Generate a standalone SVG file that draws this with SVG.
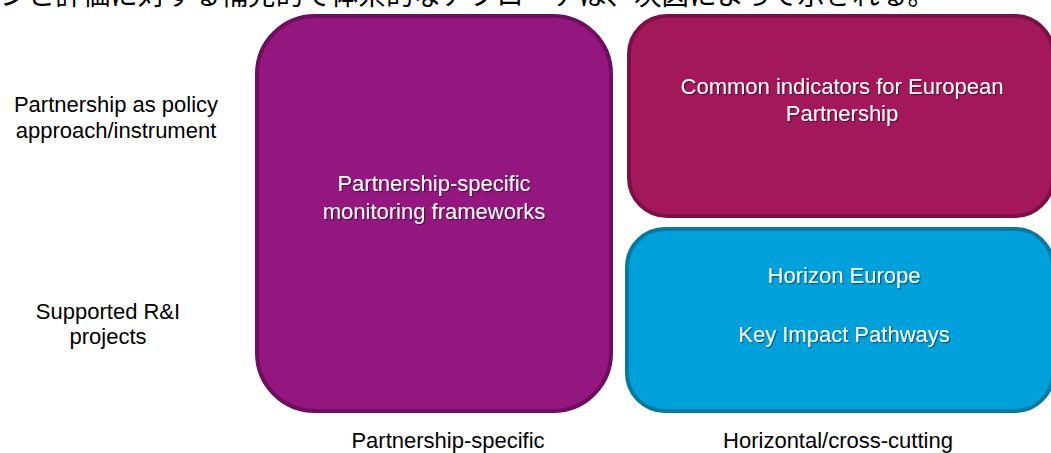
<svg xmlns="http://www.w3.org/2000/svg" width="1051" height="453" viewBox="0 0 1051 453">
  <defs>
    <filter id="txtShadow" x="-10%" y="-30%" width="120%" height="160%">
      <feDropShadow dx="1.2" dy="1.2" stdDeviation="0.7" flood-color="#000" flood-opacity="0.45"/>
    </filter>
  </defs>
  <style>
    .label { font-family: "Liberation Sans", Arial, sans-serif; font-size: 22px; fill: #000; text-anchor: middle; }
    .inner { font-family: "Liberation Sans", Arial, sans-serif; font-size: 22px; fill: #fff; text-anchor: middle; filter: url(#txtShadow); }
    .box { stroke-width: 4; }
    .jp { font-family: "Liberation Serif", "Noto Sans CJK JP", serif; font-size: 27.5px; fill: #000; }
  </style>
  <rect width="1051" height="453" fill="#fff"/>

  <!-- caption line above the chart, clipped by the top edge -->
  <text class="jp" x="0" y="5" textLength="935" lengthAdjust="spacing">ンと評価に対する補完的で体系的なアプローチは、次図によって示される。</text>

  <!-- row labels -->
  <g id="row-policy">
    <text class="label" x="116" y="112">Partnership as policy</text>
    <text class="label" x="116" y="138">approach/instrument</text>
  </g>
  <g id="row-projects">
    <text class="label" x="108" y="319">Supported R&amp;I</text>
    <text class="label" x="108" y="344">projects</text>
  </g>

  <!-- column labels -->
  <g id="col-specific">
    <text class="label" x="448" y="448">Partnership-specific</text>
  </g>
  <g id="col-horizontal">
    <text class="label" x="838" y="448">Horizontal/cross-cutting</text>
  </g>

  <g id="node-frameworks">
    <rect class="box" x="257" y="16" width="354" height="395" rx="58" fill="#93177E" stroke="#6D0F5E"/>
    <text class="inner" x="434" y="191">Partnership-specific</text>
    <text class="inner" x="434" y="219">monitoring frameworks</text>
  </g>

  <g id="node-common">
    <rect class="box" x="629" y="16" width="424" height="200" rx="38" fill="#A3185A" stroke="#7C1046"/>
    <text class="inner" x="842" y="94">Common indicators for European</text>
    <text class="inner" x="842" y="121">Partnership</text>
  </g>

  <g id="node-horizon">
    <rect class="box" x="627" y="229" width="426" height="182" rx="38" fill="#00A1DA" stroke="#0478A0"/>
    <text class="inner" x="844" y="283">Horizon Europe</text>
    <text class="inner" x="844" y="342">Key Impact Pathways</text>
  </g>

  <g id="connectors"/>
</svg>
